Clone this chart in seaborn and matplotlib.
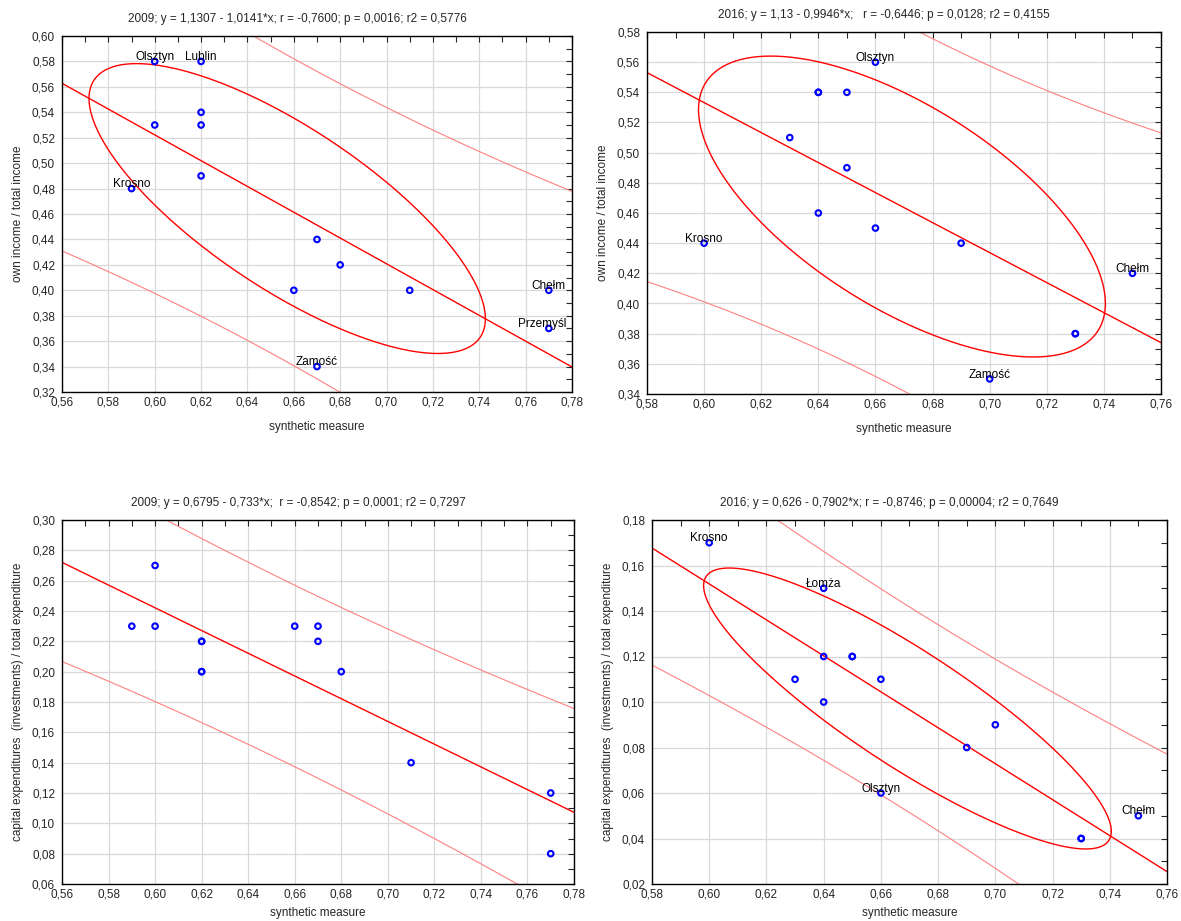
import numpy as np
import pandas as pd
import matplotlib
matplotlib.use("Agg")
import matplotlib.pyplot as plt
from matplotlib.ticker import FuncFormatter, MultipleLocator
import seaborn as sns

# synthetic measure per city
x_2009 = [0.60, 0.62, 0.62, 0.60, 0.62, 0.62, 0.59, 0.67, 0.68, 0.66, 0.71, 0.77, 0.77, 0.67]
x_2016 = [0.60, 0.63, 0.64, 0.64, 0.65, 0.66, 0.65, 0.64, 0.66, 0.69, 0.73, 0.73, 0.75, 0.70]

# own income / total income
own_2009 = [0.58, 0.58, 0.54, 0.53, 0.53, 0.49, 0.48, 0.44, 0.42, 0.40, 0.40, 0.40, 0.37, 0.34]
own_2016 = [0.44, 0.51, 0.54, 0.54, 0.54, 0.56, 0.49, 0.46, 0.45, 0.44, 0.38, 0.38, 0.42, 0.35]

# capital expenditures / total expenditure
capex_2009 = [0.27, 0.22, 0.22, 0.23, 0.20, 0.20, 0.23, 0.23, 0.20, 0.23, 0.14, 0.12, 0.08, 0.22]
capex_2016 = [0.17, 0.11, 0.15, 0.12, 0.12, 0.06, 0.12, 0.10, 0.11, 0.08, 0.04, 0.04, 0.05, 0.09]

names_own_2009 = ["Olsztyn", "Lublin", "", "", "", "", "Krosno", "", "", "", "", "Chełm", "Przemyśl", "Zamość"]
names_own_2016 = ["Krosno", "", "", "", "", "Olsztyn", "", "", "", "", "", "", "Chełm", "Zamość"]
names_capex_2009 = [""] * 14
names_capex_2016 = ["Krosno", "", "Łomża", "", "", "Olsztyn", "", "", "", "", "", "", "Chełm", ""]

titles = [
    "2009; y = 1,1307 - 1,0141*x; r = -0,7600; p = 0,0016; r2 = 0,5776",
    "2016; y = 1,13 - 0,9946*x;   r = -0,6446; p = 0,0128; r2 = 0,4155",
    "2009; y = 0,6795 - 0,733*x;  r = -0,8542; p = 0,0001; r2 = 0,7297",
    "2016; y = 0,626 - 0,7902*x; r = -0,8746; p = 0,00004; r2 = 0,7649",
]
ylab_own = "own income / total income"
ylab_cap = "capital expenditures  (investments) / total expenditure"

#%%
sns.set_style("white")
plt.rcParams["font.family"] = ["Liberation Sans", "DejaVu Sans"]
plt.rcParams["font.size"] = 8.5

W, H = 1181, 921
fig = plt.figure(figsize=(W / 100, H / 100), dpi=100)

def px_axes(l, t, r, b):
    return fig.add_axes([l / W, 1 - b / H, (r - l) / W, (b - t) / H])

panels = [
    dict(ax=px_axes(62, 36, 572, 392), x=x_2009, y=own_2009, names=names_own_2009,
         xlim=(0.56, 0.78), ylim=(0.32, 0.60), ylab=ylab_own, ellipse=True, xpad=9),
    dict(ax=px_axes(647, 32, 1161, 394), x=x_2016, y=own_2016, names=names_own_2016,
         xlim=(0.58, 0.76), ylim=(0.34, 0.58), ylab=ylab_own, ellipse=True, xpad=9),
    dict(ax=px_axes(62, 520, 574, 884), x=x_2009, y=capex_2009, names=names_capex_2009,
         xlim=(0.56, 0.78), ylim=(0.06, 0.30), ylab=ylab_cap, ellipse=False, xpad=5),
    dict(ax=px_axes(652, 520, 1167, 884), x=x_2016, y=capex_2016, names=names_capex_2016,
         xlim=(0.58, 0.76), ylim=(0.02, 0.18), ylab=ylab_cap, ellipse=True, xpad=5),
]

comma = FuncFormatter(lambda v, p: f"{v:.2f}".replace(".", ","))
t_crit = 2.179  # t(0.975, 12)
label_shift = {"Przemyśl": -5}

for i, p in enumerate(panels):
    ax = p["ax"]
    df = pd.DataFrame({"x": p["x"], "y": p["y"], "name": p["names"]})
    ax.set_xlim(*p["xlim"])
    ax.set_ylim(*p["ylim"])

    # regression + 95% prediction bands
    n = len(df)
    b1, b0 = np.polyfit(df.x, df.y, 1)
    xm, ym = df.x.mean(), df.y.mean()
    sxx = ((df.x - xm) ** 2).sum()
    s = np.sqrt(((df.y - (b0 + b1 * df.x)) ** 2).sum() / (n - 2))
    xs = np.linspace(p["xlim"][0], p["xlim"][1], 200)
    fit = b0 + b1 * xs
    half = t_crit * s * np.sqrt(1 + 1 / n + (xs - xm) ** 2 / sxx)
    sns.lineplot(x=xs, y=fit, ax=ax, color="#ff0000", lw=1.0)
    sns.lineplot(x=xs, y=fit + half, ax=ax, color="#ff8080", lw=0.8)
    sns.lineplot(x=xs, y=fit - half, ax=ax, color="#ff8080", lw=0.8)

    # range ellipse (0.95)
    if p["ellipse"]:
        r = np.corrcoef(df.x, df.y)[0, 1]
        a = 0.95 * (df.x.max() - df.x.min()) / 2
        b = 0.95 * (df.y.max() - df.y.min()) / 2
        tt = np.linspace(0, 2 * np.pi, 300)
        ex = xm + a * np.cos(tt)
        ey = ym + b * (r * np.cos(tt) + np.sqrt(1 - r ** 2) * np.sin(tt))
        ax.plot(ex, ey, color="#ff0000", lw=1.0)

    sns.scatterplot(data=df, x="x", y="y", ax=ax, marker="o", s=16,
                    fc="none", ec="#0000ff", linewidth=1.5, zorder=5)

    for _, row in df[df.name != ""].iterrows():
        ax.annotate(row["name"], (row.x, row.y), xytext=(label_shift.get(row["name"], 0), 1),
                    textcoords="offset points", ha="center", va="baseline",
                    fontsize=8.5, color="black", zorder=6)

    ax.xaxis.set_major_locator(MultipleLocator(0.02))
    ax.xaxis.set_minor_locator(MultipleLocator(0.01))
    ax.yaxis.set_major_locator(MultipleLocator(0.02))
    ax.yaxis.set_minor_locator(MultipleLocator(0.01))
    ax.xaxis.set_major_formatter(comma)
    ax.yaxis.set_major_formatter(comma)
    ax.tick_params(which="both", direction="in", top=True, right=True,
                   length=4, width=0.8, labelsize=8.5)
    ax.tick_params(axis="y", pad=5)
    ax.tick_params(axis="x", pad=3)
    ax.grid(True, which="major", color="#d9d9d9", lw=0.9)
    ax.set_axisbelow(True)
    for sp in ax.spines.values():
        sp.set_color("black")
        sp.set_linewidth(1.0)
    ax.set_xlabel("synthetic measure", fontsize=8.5, labelpad=p["xpad"])
    ax.set_ylabel(p["ylab"], fontsize=8.5, labelpad=6)
    width_px = ax.get_position().width * W
    ax.set_title(titles[i], fontsize=8.5, pad=10, x=0.5 - 20 / width_px)

plt.savefig("out.png", dpi=100)
